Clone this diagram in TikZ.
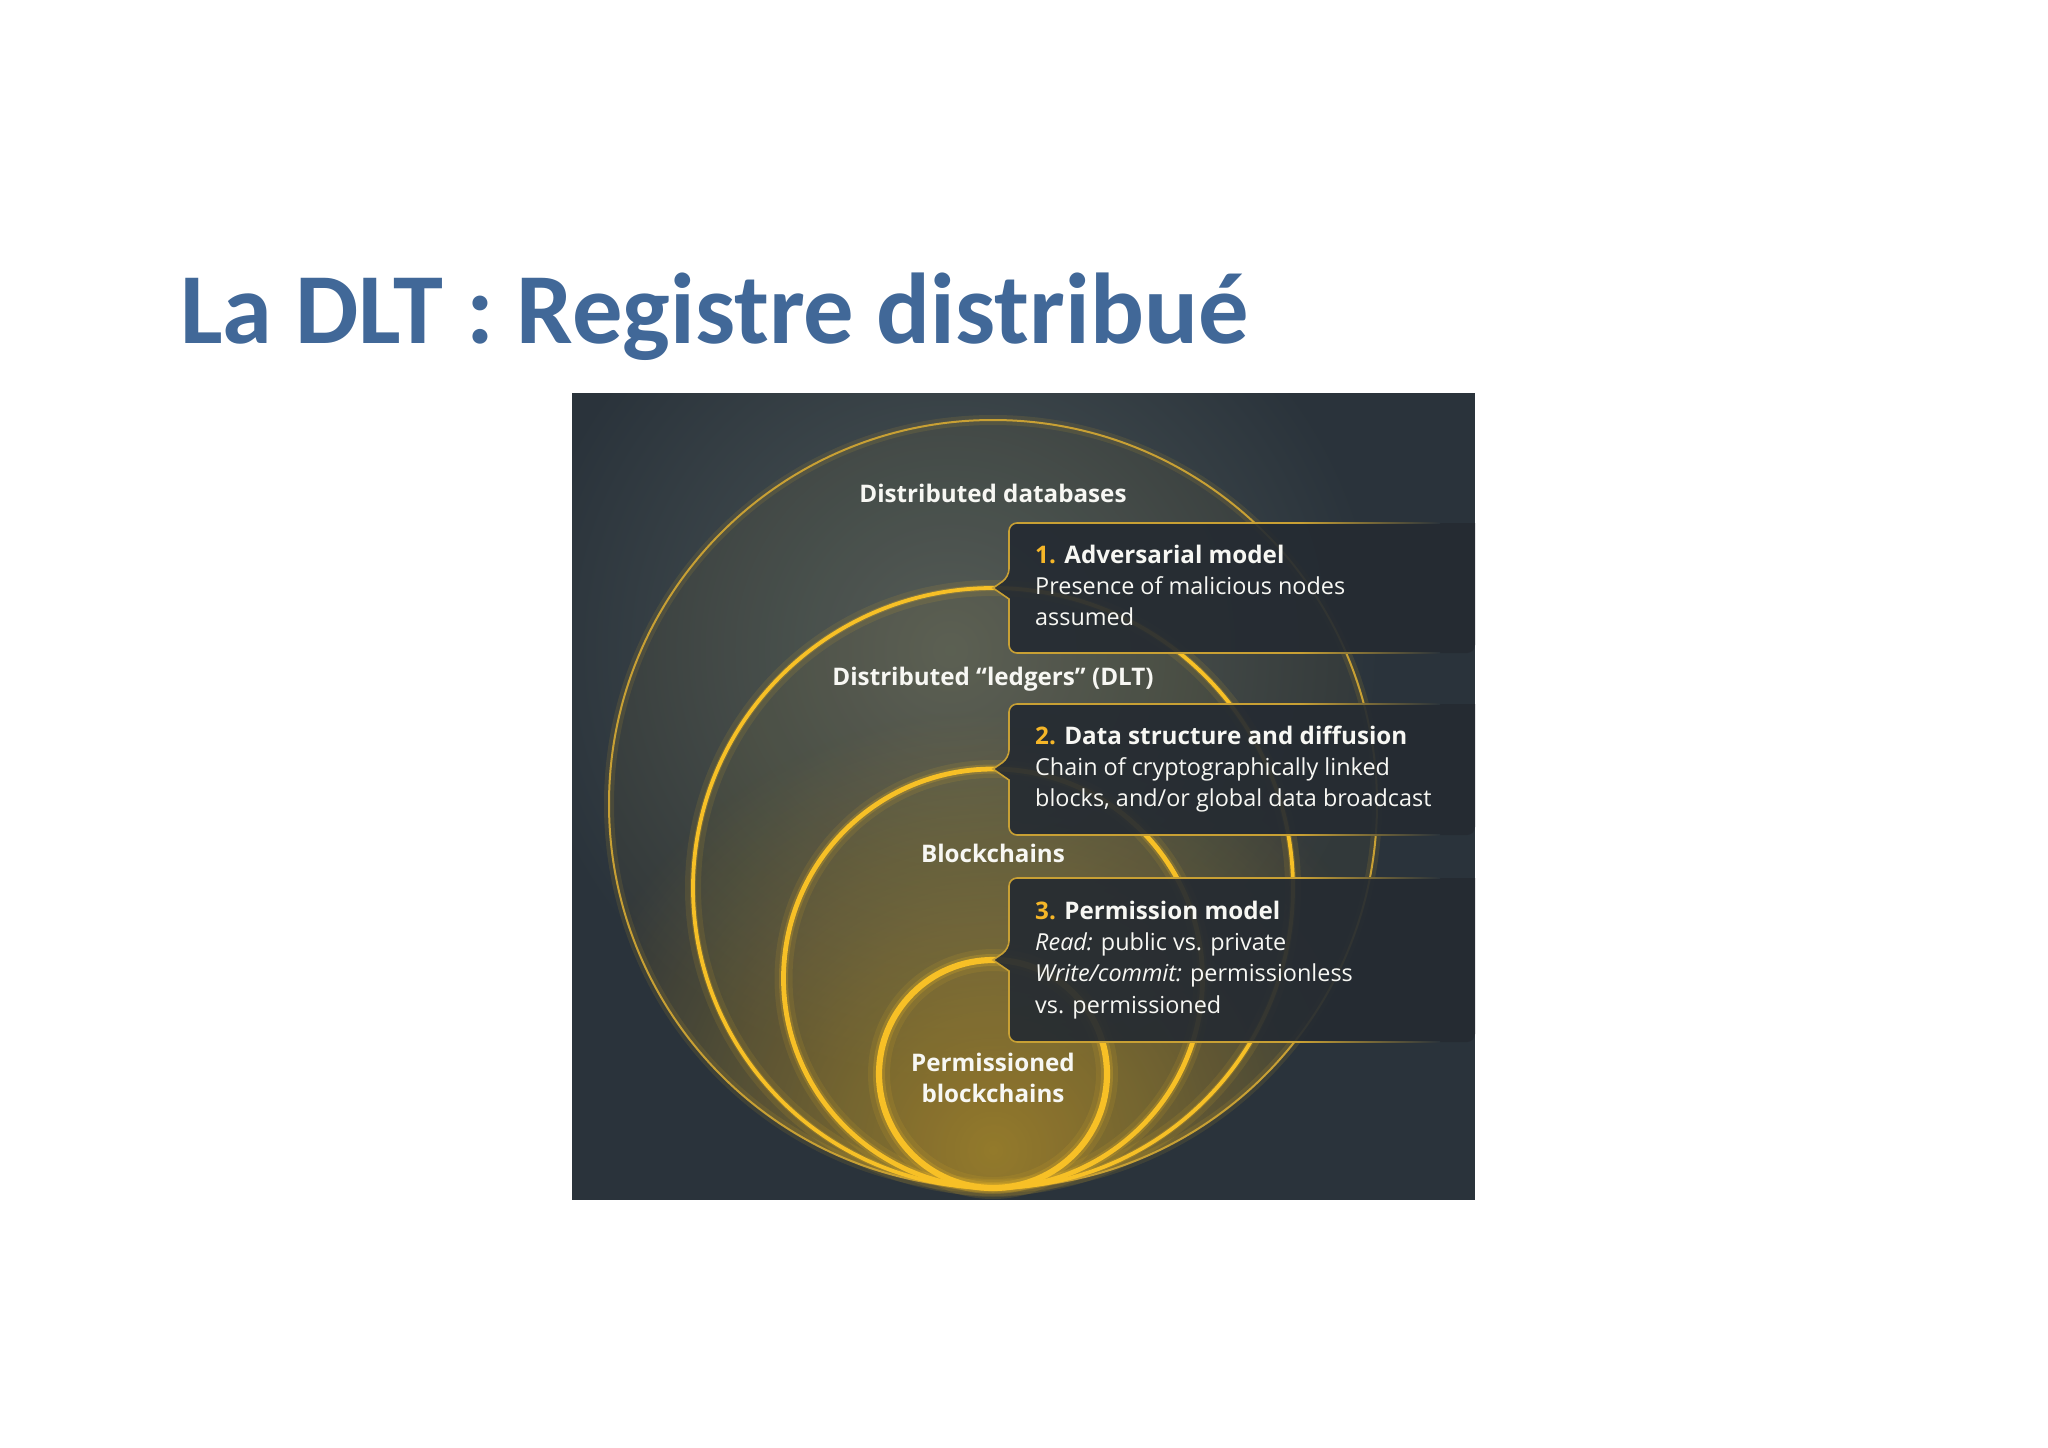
\documentclass[tikz,border=0pt]{standalone}
\usepackage{fontspec}
\setmainfont{Open Sans}
\newfontfamily\titlefont{Carlito}
\usetikzlibrary{fadings}
\definecolor{paneldark}{RGB}{42,51,59}
\definecolor{panellight}{RGB}{78,88,88}
\definecolor{gold}{RGB}{247,192,38}
\definecolor{goldthin}{RGB}{200,160,52}
\definecolor{glowcol}{RGB}{190,150,40}
\definecolor{boxfill}{RGB}{37,43,50}
\definecolor{numgold}{RGB}{245,182,40}
\definecolor{titleblue}{RGB}{65,104,152}
\definecolor{txt}{RGB}{247,247,243}
\tikzfading[name=glowfade, inner color=transparent!0, outer color=transparent!100]
\begin{document}
\begin{tikzpicture}[x=1pt,y=-1pt,
  lbl/.style={font=\fontsize{24.2}{29}\selectfont\bfseries, text=txt, anchor=base, inner sep=0pt},
  bx/.style={font=\fontsize{23.4}{28}\selectfont, text=txt, anchor=base west, inner sep=0pt},
  bxt/.style={bx, font=\fontsize{24.2}{29}\selectfont\bfseries},
  tint/.style={fill=gold, opacity=0.045},
  glowa/.style={draw=gold, opacity=0.10},
  glowb/.style={draw=gold, opacity=0.20},
  ring/.style={draw=gold},
  boxbg/.style={fill=boxfill, fill opacity=0.92},
  boxline/.style={draw=goldthin, line width=1.6pt},
  linefade/.style={left color=goldthin, right color=paneldark},
]
\useasboundingbox (0,0) rectangle (2048,1448);
\fill[white] (0,0) rectangle (2048,1448);
\node[anchor=base west, inner sep=0pt, text=titleblue, font=\titlefont\bfseries\fontsize{100.6}{110}\selectfont] (title) at (180,343) {La DLT : Registre distribué};
\coordinate (pnw) at (572,393);
\coordinate (pse) at (1475,1200);
\begin{scope}
\clip (pnw) rectangle (pse);
\fill[paneldark] (pnw) rectangle (pse);
\shade[inner color=panellight, outer color=paneldark] (950,650) circle (430);
\begin{scope}
\clip (993,804) circle (384);
\fill[glowcol, path fading=glowfade, opacity=0.6] (993,1150) circle (440);
\end{scope}
% tints
\fill[tint] (993,804) circle (384);
\fill[tint] (993,888) circle (300);
\fill[tint] (993,978.5) circle (209.5);
\fill[tint] (993,1074) circle (114);
% glows
\draw[glowa, line width=10pt] (993,804) circle (384);
\draw[glowa, line width=16pt] (993,888) circle (300);
\draw[glowa, line width=18pt] (993,978.5) circle (209.5);
\draw[glowa, line width=22pt] (993,1074) circle (114);
\draw[glowb, line width=6pt] (993,888) circle (300);
\draw[glowb, line width=9pt] (993,978.5) circle (209.5);
\draw[glowb, line width=12pt] (993,1074) circle (114);
% rings
\draw[ring, draw=goldthin, line width=2pt] (993,804) circle (384);
\draw[ring, line width=3.8pt] (993,888) circle (300);
\draw[ring, line width=4.8pt] (993,978.5) circle (209.5);
\draw[ring, line width=6.2pt] (993,1074) circle (114);
% callout boxes
\path[boxbg] (1475,523) [rounded corners=8pt] -- (1009,523) -- (1009,577) [sharp corners] -- (993,588) -- (1009,599) [rounded corners=8pt] -- (1009,653) -- (1475,653) [sharp corners] -- cycle;
\path[boxline] (1300,523) [rounded corners=8pt] -- (1009,523) -- (1009,577) [sharp corners] -- (993,588) -- (1009,599) [rounded corners=8pt] -- (1009,653) -- (1300,653);
\shade[linefade] (1300,522.2) rectangle (1440,523.8);
\shade[linefade] (1300,652.2) rectangle (1440,653.8);
\path[boxbg] (1475,704) [rounded corners=8pt] -- (1009,704) -- (1009,758) [sharp corners] -- (993,769) -- (1009,780) [rounded corners=8pt] -- (1009,835) -- (1475,835) [sharp corners] -- cycle;
\path[boxline] (1300,704) [rounded corners=8pt] -- (1009,704) -- (1009,758) [sharp corners] -- (993,769) -- (1009,780) [rounded corners=8pt] -- (1009,835) -- (1300,835);
\shade[linefade] (1300,703.2) rectangle (1440,704.8);
\shade[linefade] (1300,834.2) rectangle (1440,835.8);
\path[boxbg] (1475,878) [rounded corners=8pt] -- (1009,878) -- (1009,949) [sharp corners] -- (993,960) -- (1009,971) [rounded corners=8pt] -- (1009,1042) -- (1475,1042) [sharp corners] -- cycle;
\path[boxline] (1300,878) [rounded corners=8pt] -- (1009,878) -- (1009,949) [sharp corners] -- (993,960) -- (1009,971) [rounded corners=8pt] -- (1009,1042) -- (1300,1042);
\shade[linefade] (1300,877.2) rectangle (1440,878.8);
\shade[linefade] (1300,1041.2) rectangle (1440,1042.8);
\end{scope}
% circle labels
\node[lbl] (l1) at (993,502) {Distributed databases};
\node[lbl] (l2) at (993,685) {Distributed “ledgers” (DLT)};
\node[lbl] (l3) at (993,862) {Blockchains};
\node[lbl] (l4a) at (993,1071) {Permissioned};
\node[lbl] (l4b) at (993,1102) {blockchains};
% box texts
\node[bxt] (b1t) at (1035,563) {\textcolor{numgold}{1.} Adversarial model};
\node[bx] (b1a) at (1035,594) {Presence of malicious nodes};
\node[bx] (b1b) at (1035,625) {assumed};
\node[bxt] (b2t) at (1035,744) {\textcolor{numgold}{2.} Data structure and diffusion};
\node[bx] (b2a) at (1035,775) {Chain of cryptographically linked};
\node[bx] (b2b) at (1035,806) {blocks, and/or global data broadcast};
\node[bxt] (b3t) at (1035,919) {\textcolor{numgold}{3.} Permission model};
\node[bx] (b3a) at (1035,950) {\textit{Read:} public vs. private};
\node[bx] (b3b) at (1035,981) {\textit{Write/commit:} permissionless};
\node[bx] (b3c) at (1035,1013) {vs. permissioned};
\end{tikzpicture}
\end{document}
